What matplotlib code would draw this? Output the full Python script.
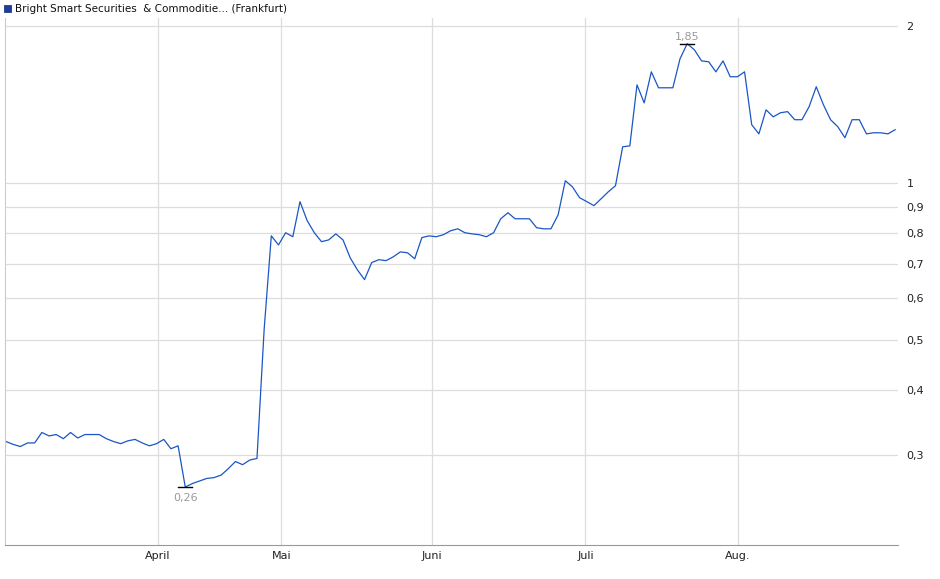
import matplotlib
matplotlib.use("Agg")
import matplotlib.pyplot as plt
from matplotlib.ticker import FixedLocator, NullLocator
from matplotlib.patches import Rectangle

prices = [0.319,0.315,0.312,0.317,0.317,0.332,0.327,0.329,0.323,0.332,0.324,0.329,0.329,0.329,0.323,
          0.319,0.316,0.320,0.322,0.317,0.313,0.316,0.322,0.309,0.313,
          0.261,0.265,0.268,0.271,0.272,0.275,0.283,0.292,0.288,0.294,0.296,
          0.523,0.791,0.760,0.802,0.788,0.920,0.846,0.802,0.771,0.777,0.798,0.777,0.718,0.681,0.652,
          0.703,0.712,0.709,0.721,0.737,0.734,0.715,0.785,0.791,0.788,0.795,0.809,0.816,0.802,0.798,
          0.795,0.788,0.802,0.853,0.876,0.853,0.853,0.853,0.820,0.816,0.816,0.868,1.009,0.982,0.936,
          0.920,0.904,0.932,0.961,0.987,1.172,1.177,1.541,1.423,1.632,1.521,1.521,1.521,1.729,1.848,
          1.799,1.713,1.706,1.632,1.713,1.597,1.597,1.632,1.292,1.241,1.380,1.338,1.362,1.369,1.321,
          1.321,1.399,1.528,1.411,1.321,1.281,1.220,1.321,1.321,1.241,1.247,1.247,1.241,1.264]
month_labels = ["April", "Mai", "Juni", "Juli", "Aug."]
month_pos = [21.2, 38.4, 59.4, 80.8, 102.1]
y_ticks = [0.3, 0.4, 0.5, 0.6, 0.7, 0.8, 0.9, 1, 2]
y_labels = ["0,3", "0,4", "0,5", "0,6", "0,7", "0,8", "0,9", "1", "2"]
title = "Bright Smart Securities  & Commoditie... (Frankfurt)"

x = list(range(len(prices)))
fig = plt.figure(figsize=(9.4, 5.79), dpi=100)
ax = fig.add_axes([5/940, 1-545/579, 893/940, 527/579])
ax.plot(x, prices, color="#1a56c4", lw=0.9)
ax.set_yscale("log")
ax.set_xlim(-0.14, 124.4)
ax.set_ylim(0.202, 2.07)
ax.yaxis.set_major_locator(FixedLocator(y_ticks))
ax.yaxis.set_minor_locator(NullLocator())
ax.set_yticklabels(y_labels)
ax.yaxis.tick_right()
ax.set_xticks(month_pos)
ax.set_xticklabels(month_labels)
ax.tick_params(axis="both", length=0, labelsize=8, colors="#222222", pad=4)
ax.tick_params(axis="y", pad=6)
ax.grid(True, color="#dddddd", lw=0.9)
ax.set_axisbelow(True)
for s in ["top", "right"]:
    ax.spines[s].set_visible(False)
ax.spines["left"].set_color("#cccccc")
ax.spines["bottom"].set_color("#999999")

imin = prices.index(min(prices))
imax = prices.index(max(prices))
ax.plot([imin-1, imin+1], [min(prices)]*2, color="black", lw=1)
ax.plot([imax-1, imax+1], [max(prices)]*2, color="black", lw=1)
ax.annotate("0,26", (imin, min(prices)), xytext=(0, -4), textcoords="offset points",
            ha="center", va="top", fontsize=8, color="#999999")
ax.annotate("1,85", (imax, max(prices)), xytext=(0, 1), textcoords="offset points",
            ha="center", va="bottom", fontsize=8, color="#999999")

fig.patches.append(Rectangle((4/940, 1-12/579), 7/940, 7/579, transform=fig.transFigure,
                             facecolor="#1a3f9c", edgecolor="#0d2466", lw=0.5))
fig.text(15/940, 1-8.5/579, title, fontsize=7.5, va="center", ha="left", color="#111111")
fig.savefig("out.png", dpi=100)
